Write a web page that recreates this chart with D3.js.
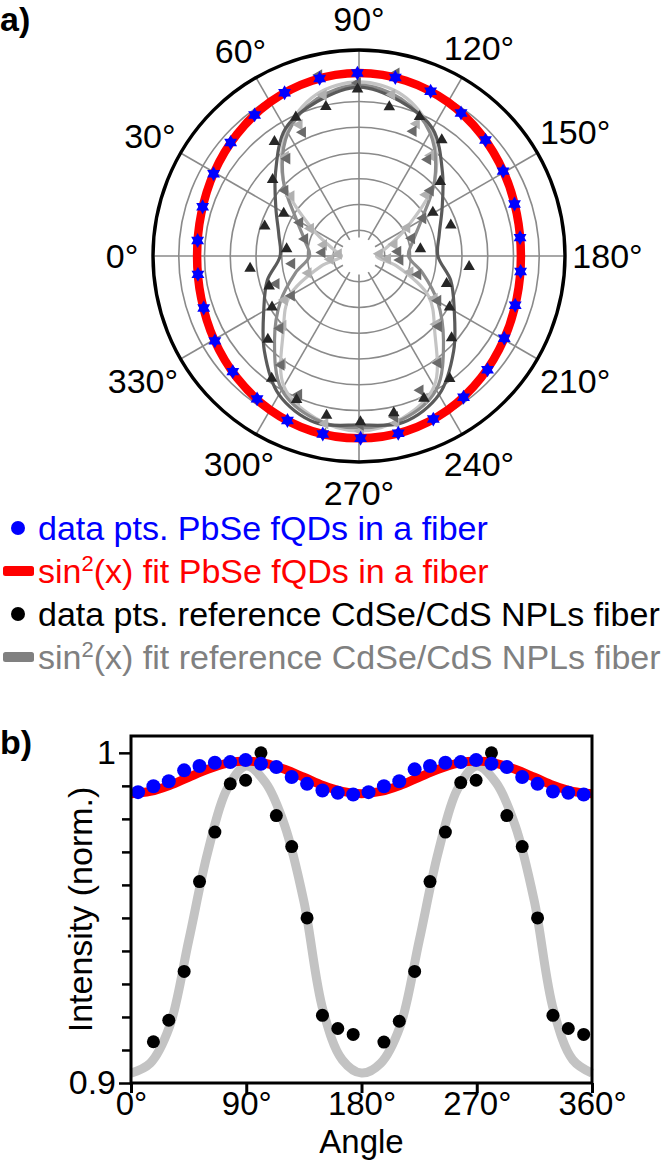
<!DOCTYPE html>
<html lang="en">
<head>
    <meta charset="UTF-8">
    <title>Polarized emission: PbSe fQDs vs CdSe/CdS NPLs fibers</title>
    <script src="https://d3js.org/d3.v7.min.js"></script>
    <style>
        body { margin: 0; background: #fff; }
        svg { display: block; font-family: "Liberation Sans", Arial, sans-serif; }
    </style>
</head>
<body>
<div id="chart"></div>
<script>
const width = 666, height = 1160;
const fontSize = 34;

// measurement angles (deg), shared by every data series
const angles = [5.5, 17.5, 29.5, 41.5, 53.5, 65.5, 77.5, 89.5, 101.5, 113.5, 125.5, 137.5, 149.5, 161.5, 173.5,
                185.5, 197.5, 209.5, 221.5, 233.5, 245.5, 257.5, 269.5, 281.5, 293.5, 305.5, 317.5, 329.5, 341.5, 353.5];
// angles where the fit curves are sampled
const fitAngles = [0, 15, 30, 45, 60, 75, 90, 105, 120, 135, 150, 165, 180,
                   195, 210, 225, 240, 255, 270, 285, 300, 315, 330, 345, 360];

// ---- panel b (normalized intensity) ----
const pbseData = [0.9881, 0.9899, 0.9914, 0.9947, 0.9960, 0.9970, 0.9972, 0.9978, 0.9967, 0.9957, 0.9927, 0.9906, 0.9886, 0.9879, 0.9874,
                  0.9881, 0.9899, 0.9914, 0.9950, 0.9960, 0.9970, 0.9972, 0.9978, 0.9967, 0.9957, 0.9927, 0.9906, 0.9883, 0.9879, 0.9874];
const nplData = [null, 0.9125, 0.9190, 0.9338, 0.9610, 0.9760, 0.9906, 0.9917, 1.0000, 0.9810, 0.9716, 0.9500, 0.9205, 0.9165, 0.9147,
                 null, 0.9124, 0.9187, 0.9338, 0.9610, 0.9760, 0.9910, 0.9917, 1.0000, 0.9810, 0.9716, 0.9500, 0.9205, 0.9165, 0.9147];
const pbseFit = [0.9876, 0.9883, 0.9901, 0.9926, 0.9950, 0.9968, 0.9975, 0.9968, 0.9950, 0.9926, 0.9901, 0.9883, 0.9876,
                 0.9883, 0.9901, 0.9926, 0.9950, 0.9968, 0.9975, 0.9968, 0.9950, 0.9926, 0.9901, 0.9883, 0.9876];
const nplFit = [0.903, 0.906, 0.917, 0.943, 0.970, 0.989, 0.996, 0.991, 0.978, 0.955, 0.922, 0.907, 0.903,
                0.906, 0.917, 0.943, 0.970, 0.989, 0.996, 0.991, 0.978, 0.955, 0.922, 0.907, 0.903];
const xTicks = [0, 90, 180, 270, 360];
const yTicks = [0.9, 0.91, 0.92, 0.93, 0.94, 0.95, 0.96, 0.97, 0.98, 0.99, 1];
const yLabels = { 0.9: "0.9", 1: "1" };

// ---- panel a (radius as fraction of the outer ring) ----
const polarPbse = [0.787, 0.796, 0.811, 0.832, 0.852, 0.871, 0.883, 0.888, 0.884, 0.872, 0.853, 0.833, 0.812, 0.796, 0.787,
                   0.788, 0.795, 0.810, 0.833, 0.853, 0.870, 0.881, 0.885, 0.882, 0.871, 0.852, 0.831, 0.812, 0.795, 0.787];
const polarUp = [0.353, 0.480, 0.420, 0.560, 0.690, 0.740, 0.743, 0.810, 0.738, 0.737, 0.692, 0.535, 0.416, 0.470, 0.300,
                 0.537, 0.446, 0.505, 0.600, 0.740, 0.760, 0.780, 0.805, 0.790, 0.760, 0.730, 0.600, 0.490, 0.460, 0.532];
const polarLeft = [0.180, 0.276, 0.330, 0.480, 0.588, 0.660, 0.900, 0.840, 0.905, 0.660, 0.575, 0.470, 0.360, 0.270, 0.190,
                   0.200, 0.300, 0.440, 0.516, 0.646, 0.716, 0.800, 0.820, 0.880, 0.733, 0.650, 0.520, 0.380, 0.424, 0.328];
const polarLeftLight = [0.10, 0.18, 0.27, 0.44, 0.60, 0.70, 0.80, 0.84, 0.80, 0.70, 0.60, 0.44, 0.27, 0.18, 0.10,
                        0.14, 0.26, 0.42, 0.50, 0.64, 0.76, 0.83, 0.85, 0.83, 0.76, 0.64, 0.50, 0.42, 0.26, 0.14];
const polarPbseFit = [0.786, 0.793, 0.812, 0.837, 0.863, 0.881, 0.888, 0.881, 0.863, 0.837, 0.812, 0.793, 0.786,
                      0.793, 0.812, 0.837, 0.863, 0.880, 0.885, 0.880, 0.863, 0.837, 0.812, 0.793, 0.786];
const polarFitDark = [0.383, 0.403, 0.466, 0.573, 0.714, 0.777, 0.820, 0.777, 0.714, 0.573, 0.466, 0.403, 0.383,
                      0.461, 0.534, 0.650, 0.777, 0.835, 0.820, 0.835, 0.777, 0.650, 0.534, 0.461, 0.383];
const polarFitMid = [0.240, 0.270, 0.350, 0.520, 0.690, 0.790, 0.830, 0.790, 0.690, 0.520, 0.350, 0.270, 0.240,
                     0.320, 0.440, 0.580, 0.750, 0.820, 0.835, 0.820, 0.750, 0.580, 0.440, 0.320, 0.240];
const polarFitLight = [0.085, 0.130, 0.260, 0.520, 0.700, 0.810, 0.845, 0.810, 0.700, 0.520, 0.260, 0.130, 0.085,
                       0.190, 0.390, 0.520, 0.730, 0.815, 0.850, 0.815, 0.730, 0.520, 0.390, 0.190, 0.085];
const ringTicks = [0.125, 0.25, 0.375, 0.5, 0.625, 0.75, 0.875];
const spokeAngles = [0, 30, 60, 90, 120, 150, 180, 210, 240, 270, 300, 330];

const legendItems = [
    { label: "data pts. PbSe fQDs in a fiber", color: "#0000ff", type: "dot" },
    { label: "fit PbSe fQDs in a fiber", color: "#ff0000", type: "bar" },
    { label: "data pts. reference CdSe/CdS NPLs fiber", color: "#000000", type: "dot" },
    { label: "fit reference CdSe/CdS NPLs fiber", color: "#808080", type: "bar" }
];

const svg = d3.select("#chart").append("svg")
    .attr("width", width)
    .attr("height", height);

svg.append("text").attr("x", 0).attr("y", 31)
    .attr("font-size", fontSize).attr("font-weight", "bold").text("a)");
svg.append("text").attr("x", 0).attr("y", 754)
    .attr("font-size", fontSize).attr("font-weight", "bold").text("b)");

// ================= panel a: polar plot =================
const cx = 359, cy = 256, R = 206;
const polar = svg.append("g").attr("transform", `translate(${cx},${cy})`);

const rScale = d3.scaleLinear().domain([0, 1]).range([0, R]);
// 0 deg on the left, 90 deg on top, going clockwise
const aScale = d3.scaleLinear().domain([0, 360]).range([-Math.PI / 2, 3 * Math.PI / 2]);
const px = (deg, r) => rScale(r) * Math.sin(aScale(deg));
const py = (deg, r) => -rScale(r) * Math.cos(aScale(deg));

polar.selectAll(".ring")
    .data(ringTicks)
    .join("circle")
    .attr("r", d => rScale(d))
    .attr("fill", "none")
    .attr("stroke", "#8a8a8a")
    .attr("stroke-width", 1.6);

polar.selectAll(".spoke")
    .data(spokeAngles)
    .join("line")
    .attr("x1", d => px(d, 0.09)).attr("y1", d => py(d, 0.09))
    .attr("x2", d => px(d, 1)).attr("y2", d => py(d, 1))
    .attr("stroke", "#8a8a8a")
    .attr("stroke-width", 1.6);

const radialLine = d3.lineRadial()
    .angle(d => aScale(d[0]))
    .radius(d => rScale(d[1]))
    .curve(d3.curveCatmullRomClosed);

const closedFit = vals => fitAngles.slice(0, -1).map((a, i) => [a, vals[i]]);

[[polarFitLight, "#c4c4c4"], [polarFitMid, "#8c8c8c"], [polarFitDark, "#5a5a5a"]].forEach(([vals, col]) => {
    polar.append("path")
        .attr("d", radialLine(closedFit(vals)))
        .attr("fill", "none")
        .attr("stroke", col)
        .attr("stroke-width", 3.2);
});

const tri = d3.symbol(d3.symbolTriangle, 58);

function triangles(vals, color, rot) {
    polar.append("g").selectAll("path")
        .data(angles.map((a, i) => [a, vals[i]]))
        .join("path")
        .attr("d", tri)
        .attr("transform", d => `translate(${px(d[0], d[1])},${py(d[0], d[1])}) rotate(${rot})`)
        .attr("fill", color);
}
triangles(polarLeftLight, "#b0b0b0", -90);
triangles(polarLeft, "#6a6a6a", -90);
triangles(polarUp, "#262626", 0);

polar.append("path")
    .attr("d", radialLine(closedFit(polarPbseFit)))
    .attr("fill", "none")
    .attr("stroke", "#ff0000")
    .attr("stroke-width", 8.5);

// blue data: up + down triangles give a star
const star = d3.symbol(d3.symbolTriangle, 72);
[0, 180].forEach(rot => {
    polar.append("g").selectAll("path")
        .data(angles.map((a, i) => [a, polarPbse[i]]))
        .join("path")
        .attr("d", star)
        .attr("transform", d => `translate(${px(d[0], d[1])},${py(d[0], d[1])}) rotate(${rot})`)
        .attr("fill", "#0000ff");
});

polar.append("circle")
    .attr("r", R)
    .attr("fill", "none")
    .attr("stroke", "#000")
    .attr("stroke-width", 3.4);

// angle labels: centred on a circle outside the frame, pushed out when a wide label would touch it
const capH = fontSize * 0.72;
function labelDist(a, w) {
    const ux = Math.sin(a), uy = -Math.cos(a);
    for (let d = 200; d < 320; d += 0.5) {
        const nx = Math.max(Math.abs(d * ux) - w / 2, 0);
        const ny = Math.max(Math.abs(d * uy) - capH / 2, 0);
        if (Math.hypot(nx, ny) >= R + 7) return Math.max(d, 237);
    }
    return 237;
}
polar.selectAll(".tlabel")
    .data(spokeAngles)
    .join("text")
    .attr("text-anchor", "middle")
    .attr("font-size", fontSize)
    .text(d => d + "°")
    .each(function(d) {
        const a = aScale(d);
        const dist = labelDist(a, this.getComputedTextLength());
        d3.select(this)
            .attr("x", dist * Math.sin(a))
            .attr("y", -dist * Math.cos(a) + capH / 2);
    });

// ================= legend =================
const legend = svg.append("g");
legendItems.forEach((item, i) => {
    const y = 528 + i * 43;
    if (item.type === "dot") {
        legend.append("circle").attr("cx", 18).attr("cy", y).attr("r", 7).attr("fill", item.color);
    } else {
        legend.append("rect").attr("x", 3).attr("y", y - 5).attr("width", 31).attr("height", 10)
            .attr("rx", 2.5).attr("fill", item.color);
    }
    const t = legend.append("text")
        .attr("x", 38).attr("y", y + 12)
        .attr("font-size", fontSize)
        .attr("fill", item.color);
    if (item.type === "bar") {
        t.append("tspan").text("sin");
        t.append("tspan").attr("dy", -12).attr("font-size", 22).text("2");
        t.append("tspan").attr("dy", 12).text("(x) " + item.label);
    } else {
        t.text(item.label);
    }
});

// ================= panel b: cartesian plot =================
const yTop = 1.0051;
const xScale = d3.scaleLinear().domain([0, 360]).range([131, 592]);
const yScale = d3.scaleLinear().domain([0.9, yTop]).range([1083, 736]);

const line = d3.line()
    .x(d => xScale(d[0]))
    .y(d => yScale(d[1]))
    .curve(d3.curveCatmullRom);

svg.append("path")
    .attr("d", line(fitAngles.map((a, i) => [a, nplFit[i]])))
    .attr("fill", "none")
    .attr("stroke", "#c3c3c3")
    .attr("stroke-width", 9);

svg.append("path")
    .attr("d", line(fitAngles.map((a, i) => [a, pbseFit[i]])))
    .attr("fill", "none")
    .attr("stroke", "#ff0000")
    .attr("stroke-width", 9);

svg.append("g").selectAll("circle")
    .data(angles.map((a, i) => [a, nplData[i]]).filter(d => d[1] !== null))
    .join("circle")
    .attr("cx", d => xScale(d[0]))
    .attr("cy", d => yScale(d[1]))
    .attr("r", 6.5)
    .attr("fill", "#000");

svg.append("g").selectAll("circle")
    .data(angles.map((a, i) => [a, pbseData[i]]))
    .join("circle")
    .attr("cx", d => xScale(d[0]))
    .attr("cy", d => yScale(d[1]))
    .attr("r", 7)
    .attr("fill", "#0000ff");

// frame
svg.append("rect")
    .attr("x", xScale(0)).attr("y", yScale(yTop))
    .attr("width", xScale(360) - xScale(0))
    .attr("height", yScale(0.9) - yScale(yTop))
    .attr("fill", "none")
    .attr("stroke", "#000")
    .attr("stroke-width", 3);

const yAxis = svg.append("g")
    .attr("transform", `translate(${xScale(0)},0)`)
    .call(d3.axisLeft(yScale).tickValues(yTicks).tickSize(12).tickSizeOuter(0)
        .tickFormat(d => yLabels[d] || ""));
yAxis.select(".domain").remove();
yAxis.selectAll(".tick line").attr("stroke-width", 2.5).attr("x2", d => yLabels[d] ? -12 : -9);
yAxis.selectAll(".tick text").attr("font-size", fontSize).attr("font-family", "Liberation Sans, Arial, sans-serif")
    .attr("fill", "#000").attr("x", -15);

const xAxis = svg.append("g")
    .attr("transform", `translate(0,${yScale(0.9)})`)
    .call(d3.axisBottom(xScale).tickValues(xTicks).tickSize(10).tickSizeOuter(0)
        .tickFormat(d => d + "°"));
xAxis.select(".domain").remove();
xAxis.selectAll(".tick line").attr("stroke-width", 3);
xAxis.selectAll(".tick text").attr("font-size", 33).attr("font-family", "Liberation Sans, Arial, sans-serif")
    .attr("fill", "#000").attr("y", 9).attr("dy", "0.71em");

svg.append("text")
    .attr("x", (xScale(0) + xScale(360)) / 2)
    .attr("y", 1153)
    .attr("text-anchor", "middle")
    .attr("font-size", 33)
    .text("Angle");

svg.append("text")
    .attr("transform", `translate(92,${(yScale(0.9) + yScale(yTop)) / 2}) rotate(-90)`)
    .attr("text-anchor", "middle")
    .attr("font-size", fontSize)
    .text("Intensity (norm.)");
</script>
</body>
</html>
